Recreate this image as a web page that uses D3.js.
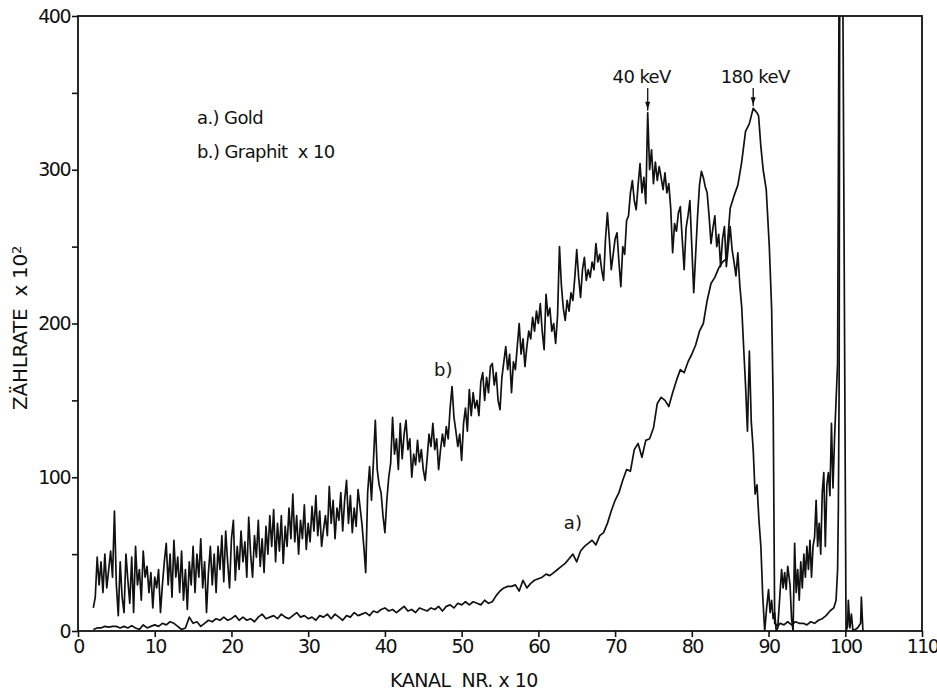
<!DOCTYPE html>
<html>
<head>
<meta charset="utf-8">
<script src="https://cdn.jsdelivr.net/npm/d3@7"></script>
<style>
  html, body { margin: 0; padding: 0; background: #fff; }
  svg { display: block; }
  text { font-family: "DejaVu Sans", sans-serif; fill: #111; white-space: pre; }
</style>
</head>
<body>
<svg id="chart" width="937" height="691"></svg>
<script>
// ---------------- data ----------------
const xTicks = [0, 10, 20, 30, 40, 50, 60, 70, 80, 90, 100, 110];
const yTicks = [0, 50, 100, 150, 200, 250, 300, 350, 400];
const yTickLabels = ["0", "", "100", "", "200", "", "300", "", "400"];

// b) Graphit x 10 : channel start / step for the regular part
const graphitStart = 2.0;
const graphitStep = 0.25;
const graphitValues = [
  15, 22, 48, 30, 45, 25, 50, 28, 40, 52, 35, 78,
  30, 10, 45, 22, 12, 50, 33, 18, 48, 12, 55, 30,
  40, 20, 52, 35, 42, 25, 38, 15, 35, 28, 40, 12,
  30, 45, 57, 30, 50, 22, 59, 35, 48, 25, 52, 20,
  40, 14, 45, 30, 55, 25, 50, 35, 60, 28, 45, 12,
  38, 55, 30, 50, 25, 55, 40, 62, 32, 65, 45, 28,
  60, 72, 33, 55, 40, 65, 45, 58, 35, 74, 50, 35,
  62, 48, 72, 42, 60, 38, 68, 50, 75, 55, 79, 45,
  70, 52, 75, 44, 68, 55, 80, 60, 89, 58, 75, 50,
  72, 60, 82, 53, 70, 58, 81, 65, 88, 62, 78, 55,
  66, 75, 62, 94, 70, 85, 60, 80, 72, 90, 65, 85,
  98, 70, 88, 64, 80, 68, 92, 81, 70, 55, 38, 90,
  107, 85, 110, 137, 105, 95, 90, 75, 64, 85, 100, 109,
  139, 115, 125, 105, 135, 112, 128, 137, 118, 125, 100, 115,
  108, 124, 110, 118, 105, 98, 112, 128, 120, 135, 118, 125,
  105, 118, 128, 120, 133, 125, 145, 159, 139, 130, 120, 128,
  111, 135, 145, 130, 157, 140, 155, 145, 150, 140, 162, 168,
  150, 165, 155, 172, 174, 160, 168, 150, 144, 165, 175, 185,
  170, 180, 155, 175, 170, 185, 200, 180, 190, 172, 185, 195,
  190, 204, 195, 208, 200, 213, 195, 183, 219, 205, 210, 195,
  200, 187, 205, 250, 225, 210, 202, 215, 208, 220, 215, 230,
  248, 230, 217, 235, 243, 228, 235, 230, 240, 235, 252, 240,
  245, 235, 228, 255, 272, 255, 235, 245, 255, 259, 240, 224,
  250, 245, 267, 270, 285, 293, 280, 274, 290, 304, 285, 295,
  278, 337, 300, 313, 291, 305, 293, 302, 295, 287, 298, 285,
  291, 275, 246, 265, 260, 272, 276, 255, 235, 262, 270, 280,
  250, 220, 245, 270, 290, 299, 295, 289, 285, 270, 252, 262,
  270, 250, 258, 237, 255, 263, 237, 250, 263, 248, 240, 231,
  246, 225, 211, 185, 160, 130, 182, 136, 118, 89, 95, 72,
  55, 22, 0
];
// irregular tail of b) : [channel, value]
const graphitTail = [
  [89.75, 15], [90.0, 27], [90.2, 12], [90.4, 20], [90.6, 8], [90.8, 12],
  [91.0, 0], [91.2, 2], [91.5, 25], [91.7, 40], [91.9, 28], [92.1, 38],
  [92.3, 27], [92.5, 42], [92.8, 30], [93.0, 8], [93.2, 0], [93.4, 57],
  [93.6, 25], [93.8, 40], [94.0, 20], [94.2, 45], [94.4, 28], [94.6, 50],
  [94.8, 35], [95.0, 55], [95.2, 40], [95.4, 59], [95.6, 35], [95.8, 55],
  [96.0, 61], [96.2, 85], [96.4, 55], [96.6, 70], [96.8, 50], [97.0, 90],
  [97.2, 103], [97.4, 55], [97.6, 95], [97.8, 103], [98.0, 88], [98.2, 135],
  [98.4, 93], [98.6, 125], [98.8, 150], [99.0, 174], [99.1, 300], [99.25, 500]
];

// a) Gold : channel start / step for the regular part
const goldStart = 2.0;
const goldStep = 0.5;
const goldValues = [
  1, 2, 2, 3, 2.5, 3, 3, 2, 3, 2, 3.5, 2, 1, 4, 2, 3,
  4, 3, 5, 4, 6, 5, 3, 1, 2, 9, 5, 6, 3, 5, 7, 6, 8, 7, 9, 7,
  8, 10, 7, 9, 7, 8, 6, 9, 11, 8, 9, 10, 8, 11, 9, 8, 10, 12, 9, 10,
  8, 9, 7, 10, 9, 11, 8, 11, 9, 7, 10, 9, 12, 10, 11, 12, 10, 13, 12, 14,
  15, 13, 14, 12, 14, 16, 13, 14, 12, 15, 14, 13, 15, 14, 16, 13, 16, 17, 15, 18,
  17, 19, 17, 19, 18, 17, 20, 18, 19, 23, 26, 28, 29, 29, 30, 26, 33, 28, 31, 33,
  34, 35, 37, 36, 38, 40, 42, 44, 47, 50, 45, 52, 55, 57, 59, 56, 62, 64, 70, 78,
  85, 90, 98, 105, 104, 118, 122, 113, 124, 125, 132, 148, 152, 150, 146, 155, 163, 170, 168, 175,
  180, 186, 195, 200, 215, 226, 230, 236, 240, 242, 275, 283, 290, 305, 325, 330, 340, 337
];
// irregular tail of a) : [channel, value]
const goldTail = [
  [88.7, 335], [89.0, 315], [89.3, 300], [89.7, 287], [90.1, 250], [90.4, 210],
  [90.6, 150], [90.8, 5], [91.2, 3], [91.5, 5], [92.0, 4], [92.5, 6], [93.0, 4],
  [93.5, 6], [94.0, 5], [94.5, 5], [95.0, 4], [95.5, 6], [96.0, 5], [96.5, 7],
  [97.0, 8], [97.5, 10], [98.0, 13], [98.5, 15], [98.8, 20], [99.0, 40],
  [99.1, 80], [99.2, 160], [99.3, 500], [99.6, 500], [100.1, 0], [100.3, 3],
  [100.4, 20], [100.6, 2], [100.8, 11], [101.0, 0], [101.6, 2], [102.0, 5],
  [102.1, 22], [102.3, 0]
];

const legendLines = ["a.) Gold", "b.) Graphit  x 10"];
const peakLabels = [
  { text: "40 keV", channel: 74.25, value: 337, shift: -6 },
  { text: "180 keV", channel: 88.0, value: 340, shift: 2 }
];
const curveLabels = [
  { text: "b)", channel: 47.6, value: 170 },
  { text: "a)", channel: 64.5, value: 70 }
];

// ---------------- build series ----------------
const graphit = graphitValues.map((v, i) => [graphitStart + i * graphitStep, v]).concat(graphitTail);
const gold = goldValues.map((v, i) => [goldStart + i * goldStep, v]).concat(goldTail);

// ---------------- drawing ----------------
const svg = d3.select("#chart");
const x = d3.scaleLinear().domain([0, 110]).range([78, 922]);
const y = d3.scaleLinear().domain([0, 400]).range([631, 16]);

svg.append("defs").append("clipPath").attr("id", "plotclip")
  .append("rect")
  .attr("x", x(0)).attr("y", y(400))
  .attr("width", x(110) - x(0)).attr("height", y(0) - y(400));

const line = d3.line().x(d => x(d[0])).y(d => y(d[1]));

const plot = svg.append("g").attr("clip-path", "url(#plotclip)");
plot.append("path").datum(gold)
  .attr("d", line).attr("fill", "none").attr("stroke", "#111")
  .attr("stroke-width", 1.7).attr("stroke-linejoin", "round");
plot.append("path").datum(graphit)
  .attr("d", line).attr("fill", "none").attr("stroke", "#111")
  .attr("stroke-width", 1.7).attr("stroke-linejoin", "round");

// frame
svg.append("rect")
  .attr("x", x(0)).attr("y", y(400))
  .attr("width", x(110) - x(0)).attr("height", y(0) - y(400))
  .attr("fill", "none").attr("stroke", "#111").attr("stroke-width", 1.8);

// axes
const xAxis = d3.axisBottom(x).tickValues(xTicks).tickSize(6).tickSizeOuter(0).tickPadding(3)
  .tickFormat(d3.format("d"));
const gx = svg.append("g").attr("transform", `translate(0,${y(0)})`).call(xAxis);
const yAxis = d3.axisLeft(y).tickValues(yTicks).tickSize(6).tickSizeOuter(0).tickPadding(2)
  .tickFormat((d, i) => yTickLabels[i]);
const gy = svg.append("g").attr("transform", `translate(${x(0)},0)`).call(yAxis);

[gx, gy].forEach(g => {
  g.select(".domain").remove();
  g.selectAll(".tick line").attr("stroke", "#111").attr("stroke-width", 1.6);
  g.selectAll(".tick text")
    .style("font-family", "'DejaVu Sans', sans-serif")
    .style("font-size", "19px")
    .style("letter-spacing", "-1.5px")
    .attr("fill", "#111");
});

// axis titles
svg.append("text")
  .attr("x", 464).attr("y", 687)
  .attr("text-anchor", "middle")
  .style("font-size", "19px").style("letter-spacing", "-0.5px")
  .text("KANAL  NR. x 10");

const yt = svg.append("text")
  .attr("transform", `translate(27,${328}) rotate(-90)`)
  .attr("text-anchor", "middle")
  .style("font-size", "20px").style("letter-spacing", "-0.3px");
yt.append("tspan").text("ZÄHLRATE  x 10");
yt.append("tspan").attr("dy", "-0.5em").style("font-size", "13px").text("2");

// legend
svg.selectAll(".legend").data(legendLines).join("text")
  .attr("class", "legend")
  .attr("x", 197).attr("y", (d, i) => 124 + i * 34)
  .style("font-size", "18px").style("letter-spacing", "-0.6px")
  .text(d => d);

// peak labels with arrows
peakLabels.forEach(p => {
  const px = x(p.channel);
  const top = y(p.value);
  svg.append("text")
    .attr("x", px + p.shift).attr("y", 83)
    .attr("text-anchor", "middle")
    .style("font-size", "18px").style("letter-spacing", "-0.6px")
    .text(p.text);
  svg.append("line")
    .attr("x1", px).attr("x2", px).attr("y1", 88).attr("y2", top - 2)
    .attr("stroke", "#111").attr("stroke-width", 1.3);
  svg.append("path")
    .attr("d", `M${px - 2.5},${top - 11} L${px + 2.5},${top - 11} L${px},${top - 3} Z`)
    .attr("fill", "#111");
});

// curve labels
svg.selectAll(".clabel").data(curveLabels).join("text")
  .attr("class", "clabel")
  .attr("x", d => x(d.channel)).attr("y", d => y(d.value) + 6)
  .attr("text-anchor", "middle")
  .style("font-size", "18px")
  .text(d => d.text);
</script>
</body>
</html>
